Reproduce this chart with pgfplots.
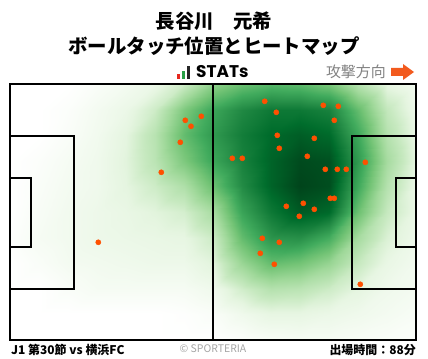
\documentclass[border=0pt]{standalone}
\usepackage{pgfplots}
\pgfplotsset{compat=1.18}
\usepackage{fontspec}
\setmainfont{Noto Sans CJK JP}
\newfontfamily\statsfont{Poppins}
\definecolor{dotc}{RGB}{255,80,0}
\definecolor{arrowc}{RGB}{242,90,30}
\definecolor{graytxt}{RGB}{130,130,130}
\definecolor{lightgray}{RGB}{165,165,165}
\definecolor{barred}{RGB}{230,40,30}
\definecolor{bargreen}{RGB}{40,160,70}
\begin{document}
\begin{tikzpicture}[x=1bp,y=1bp]
\useasboundingbox (0,0) rectangle (428,359);
\fill[white] (0,0) rectangle (428,359);
\begin{axis}[
  at={(10bp,19bp)}, anchor=south west,
  scale only axis, width=406bp, height=256bp,
  xmin=10, xmax=416, ymin=84, ymax=340,
  y dir=reverse, hide axis, clip=false,
  colormap={greens}{rgb255(0cm)=(255,255,255); rgb255(1cm)=(247,252,245); rgb255(3cm)=(229,245,224); rgb255(5cm)=(199,233,192); rgb255(8cm)=(161,217,155); rgb255(11cm)=(116,196,118); rgb255(14cm)=(65,171,93); rgb255(17cm)=(35,139,69); rgb255(20cm)=(0,109,44); rgb255(23cm)=(0,68,27)},
  point meta min=0, point meta max=1,
]
\addplot[surf, shader=interp, mesh/cols=15, point meta=explicit] table[x=x, y=y, meta=d] {
x y d
10 84 0
39 84 0
68 84 0
97 84 0.03
126 84 0.06
155 84 0.10
184 84 0.20
213 84 0.40
242 84 0.50
271 84 0.55
300 84 0.53
329 84 0.46
358 84 0.27
387 84 0.12
416 84 0.06
10 110 0
39 110 0
68 110 0.02
97 110 0.06
126 110 0.10
155 110 0.20
184 110 0.45
213 110 0.63
242 110 0.75
271 110 0.82
300 110 0.82
329 110 0.78
358 110 0.52
387 110 0.23
416 110 0.09
10 135 0
39 135 0
68 135 0.03
97 135 0.07
126 135 0.13
155 135 0.27
184 135 0.52
213 135 0.68
242 135 0.80
271 135 0.88
300 135 0.92
329 135 0.88
358 135 0.62
387 135 0.28
416 135 0.11
10 161 0
39 161 0.02
68 161 0.05
97 161 0.08
126 161 0.14
155 161 0.26
184 161 0.45
213 161 0.63
242 161 0.78
271 161 0.90
300 161 0.98
329 161 0.96
358 161 0.68
387 161 0.33
416 161 0.13
10 186 0
39 186 0.03
68 186 0.06
97 186 0.08
126 186 0.13
155 186 0.20
184 186 0.30
213 186 0.50
242 186 0.74
271 186 0.90
300 186 1.00
329 186 0.97
358 186 0.62
387 186 0.28
416 186 0.11
10 212 0
39 212 0.04
68 212 0.07
97 212 0.09
126 212 0.11
155 212 0.14
184 212 0.18
213 212 0.32
242 212 0.64
271 212 0.82
300 212 0.93
329 212 0.88
358 212 0.50
387 212 0.22
416 212 0.11
10 238 0.01
39 238 0.05
68 238 0.07
97 238 0.09
126 238 0.10
155 238 0.11
184 238 0.12
213 238 0.20
242 238 0.52
271 238 0.70
300 238 0.72
329 238 0.60
358 238 0.33
387 238 0.16
416 238 0.09
10 263 0
39 263 0.03
68 263 0.06
97 263 0.07
126 263 0.08
155 263 0.09
184 263 0.09
213 263 0.14
242 263 0.37
271 263 0.52
300 263 0.48
329 263 0.38
358 263 0.22
387 263 0.11
416 263 0.07
10 289 0
39 289 0
68 289 0.03
97 289 0.05
126 289 0.05
155 289 0.05
184 289 0.05
213 289 0.08
242 289 0.19
271 289 0.28
300 289 0.26
329 289 0.20
358 289 0.13
387 289 0.08
416 289 0.06
10 314 0
39 314 0
68 314 0
97 314 0
126 314 0
155 314 0
184 314 0.01
213 314 0.03
242 314 0.08
271 314 0.12
300 314 0.12
329 314 0.10
358 314 0.08
387 314 0.06
416 314 0.04
10 340 0
39 340 0
68 340 0
97 340 0
126 340 0
155 340 0
184 340 0
213 340 0
242 340 0.02
271 340 0.04
300 340 0.05
329 340 0.05
358 340 0.04
387 340 0.03
416 340 0.02
};
\end{axis}
% pitch lines as thin filled bars (picture coords: x = px, y = 359 - py)
\begin{scope}[black]
\fill (9,274) rectangle (417,276);
\fill (9,18) rectangle (417,20);
\fill (9,18) rectangle (11,276);
\fill (415,18) rectangle (417,276);
\fill (211.7,18) rectangle (213.7,276);
\fill (10,222.3) rectangle (75,224.3);
\fill (73,69) rectangle (75,224.3);
\fill (10,69) rectangle (75,71);
\fill (10,180.3) rectangle (32,182.3);
\fill (30,111.3) rectangle (32,182.3);
\fill (10,111.3) rectangle (32,113.3);
\fill (351.3,222.3) rectangle (416,224.3);
\fill (351.3,69) rectangle (353.3,224.3);
\fill (351.3,69) rectangle (416,71);
\fill (394.7,180.3) rectangle (416,182.3);
\fill (394.7,111.3) rectangle (396.7,182.3);
\fill (394.7,111.3) rectangle (416,113.3);
\end{scope}
\begin{axis}[
  at={(10bp,19bp)}, anchor=south west,
  scale only axis, width=406bp, height=256bp,
  xmin=10, xmax=416, ymin=84, ymax=340,
  y dir=reverse, hide axis, clip=false,
]
% ball touches
\addplot[only marks, mark=*, mark size=2.6bp, color=dotc, mark options={draw=dotc, fill=dotc}] coordinates {
(264.7,101.3) (276.3,112.3) (323.3,105.3) (338.3,106.3) (334.3,120.3)
(277.3,135.3) (314.3,138.3) (279.3,148.3) (232.3,158.3) (242.3,158.3)
(307.3,156.3) (365.3,162.3) (325.3,169.3) (337.3,169.3) (346.3,169.3)
(330.3,198.3) (334.3,198.3) (286.3,206.3) (303.3,203.3) (314.3,209.3)
(299.3,216.3) (262.3,238.3) (279.3,242.3) (260.3,253.3) (274.3,264.3)
(360.3,284.3) (185.3,120.3) (201.3,116.3) (191.0,126.3) (180.3,142.3)
(161.3,172.3) (98.3,242.3)
};
\end{axis}
% titles
\node[font=\bfseries\fontsize{19.5}{22}\selectfont, inner sep=0] at (214,338) {長谷川　元希};
\node[font=\bfseries\fontsize{19.5}{22}\selectfont, inner sep=0] at (214,313) {ボールタッチ位置とヒートマップ};
% STATs logo
\fill[barred] (177,280) rectangle (180,285);
\fill[bargreen] (182,280) rectangle (185,288);
\fill[black!85] (187,280) rectangle (190,293);
\node[font=\statsfont\bfseries\fontsize{17}{19}\selectfont, anchor=west, inner sep=0] at (196,287) {STATs};
% attack direction
\node[font=\fontsize{15}{17}\selectfont, text=graytxt, anchor=east, inner sep=0] at (386,287) {攻撃方向};
\fill[arrowc] (391,283) -- (403,283) -- (403,279) -- (414,287) -- (403,295) -- (403,291) -- (391,291) -- cycle;
% bottom texts
\node[font=\bfseries\fontsize{12}{14}\selectfont, anchor=west, inner sep=0] at (11,9) {J1 第30節 vs 横浜FC};
\node[font=\fontsize{10.5}{12}\selectfont, text=lightgray, inner sep=0] at (213,10) {© SPORTERIA};
\node[font=\bfseries\fontsize{12}{14}\selectfont, anchor=east, inner sep=0] at (416,9) {出場時間：88分};
\end{tikzpicture}
\end{document}
